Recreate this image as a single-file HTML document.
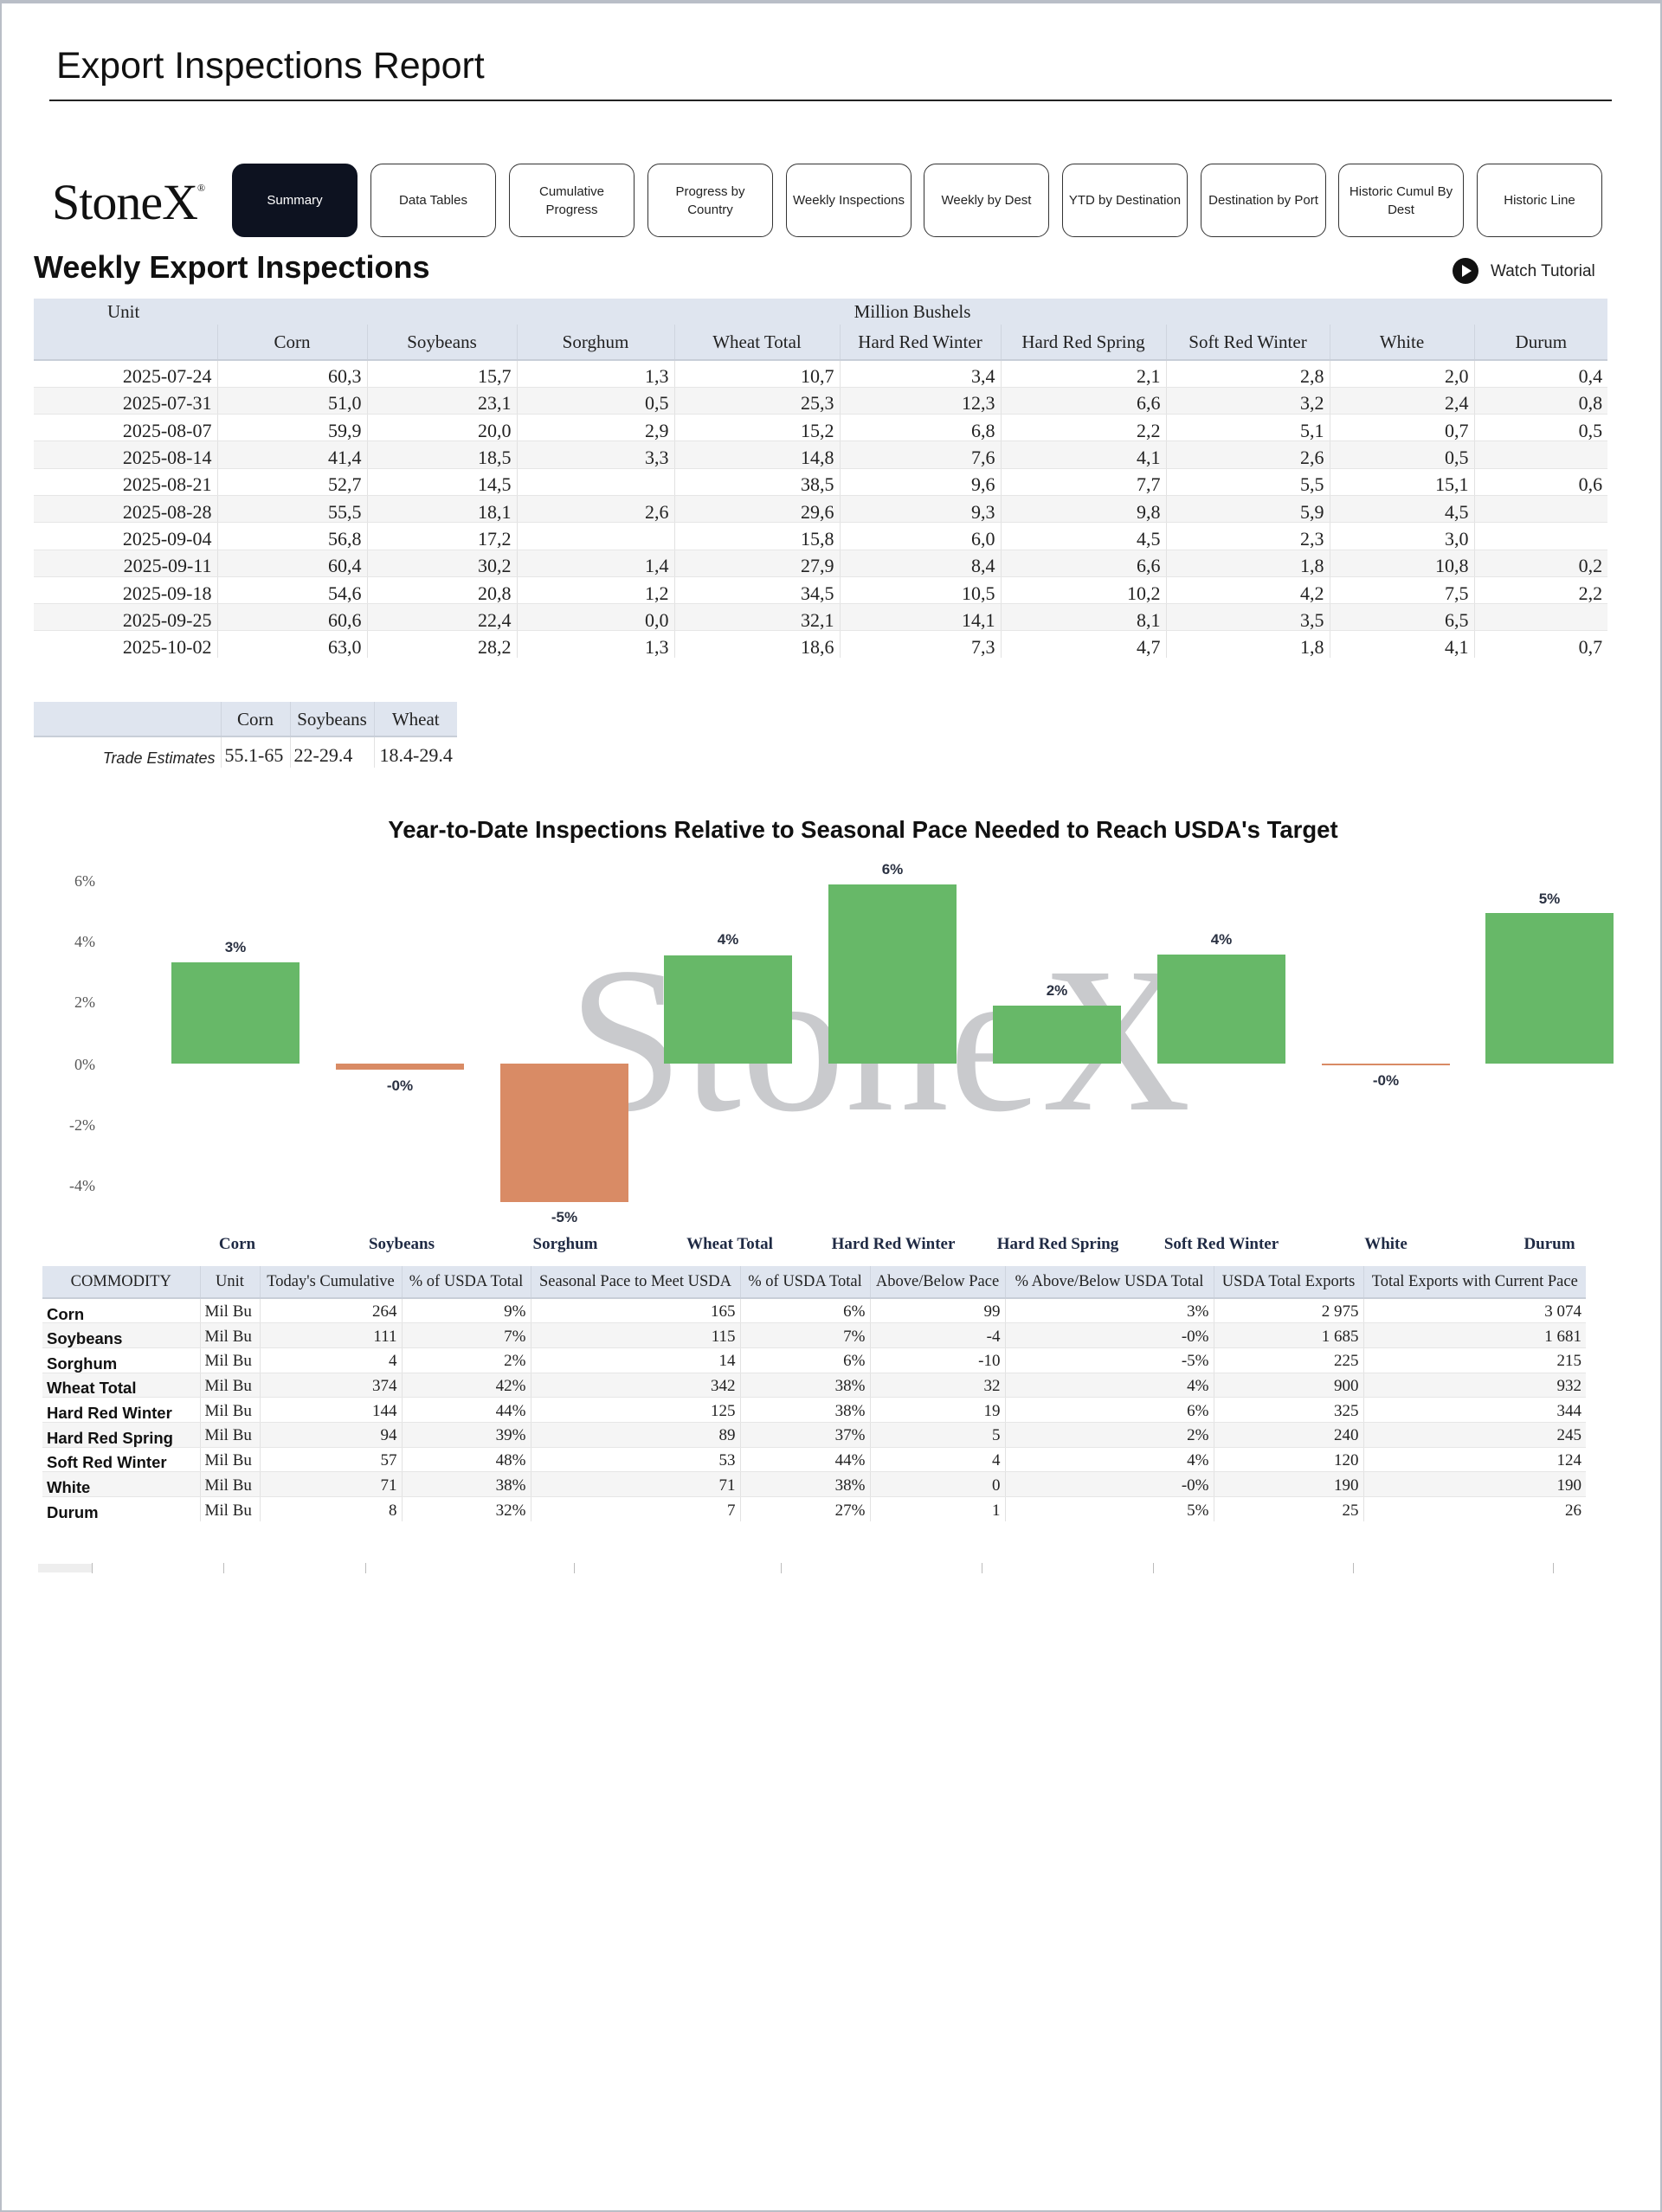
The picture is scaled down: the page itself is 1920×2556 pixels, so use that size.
<!DOCTYPE html>
<html><head><meta charset="utf-8"><style>
html,body{margin:0;padding:0;}
body{width:1920px;height:2554px;position:relative;background:#fff;overflow:hidden;font-family:"Liberation Serif",serif;color:#222;}
.frame{position:absolute;left:0;top:0;width:1916px;height:2550px;border:2px solid #b9bec7;border-top:4px solid #b9bec7;}
.abs{position:absolute;}
.btn{position:absolute;top:189px;width:145px;height:85px;border:1.5px solid #333;border-radius:14px;box-sizing:border-box;display:flex;align-items:center;justify-content:center;text-align:center;font-family:"Liberation Sans",sans-serif;font-size:15px;line-height:21px;color:#222;}
table{border-collapse:collapse;table-layout:fixed;position:absolute;}
td{padding:0 6px;white-space:nowrap;overflow:hidden;}
.t1 td{font-size:22px;line-height:22px;text-align:right;border-left:1px solid #e2e2e2;height:31.3px;box-sizing:border-box;padding-top:7px;padding-bottom:0;}
.t1 tr.h td{background:#dfe5ef;text-align:center;border-left:1px solid #cfd5df;font-size:21px;padding-top:0;}
.t1 tr.alt td{background:#f5f5f5;}
.t1 tr.d td{border-bottom:1px solid #e6e6e6;}
.t3 td{font-size:19px;line-height:19px;text-align:right;border-left:1px solid #e2e2e2;height:28.7px;box-sizing:border-box;border-bottom:1px solid #e6e6e6;padding:2px 5px 0 5px;}
.t3 tr.h td{background:#dfe5ef;text-align:center;height:37px;border-bottom:2px solid #c8ced8;border-left:1px solid #cfd5df;font-size:18.5px;padding:0 3px;}
.t3 tr.alt td{background:#f5f5f5;}
.t3 td.n{font-family:"Liberation Sans",sans-serif;font-weight:bold;text-align:left;font-size:18.5px;color:#111;border-left:none;padding-top:7px;}
.t3 td.u{text-align:left;}
</style></head><body>
<div class="frame"></div>
<div class="abs" style="left:65px;top:52px;font-family:'Liberation Sans',sans-serif;font-size:43px;color:#111;">Export Inspections Report</div>
<div class="abs" style="left:57px;top:115px;width:1805px;height:2px;background:#222;"></div>
<div class="abs" style="left:60px;top:200px;font-size:58px;color:#111;letter-spacing:-1px;">StoneX<sup style="font-size:12px;vertical-align:top;position:relative;top:10px;">®</sup></div>
<div class="btn" style="left:268px;background:#0d1220;color:#fff;border-color:#0d1220;">Summary</div>
<div class="btn" style="left:428px;">Data Tables</div>
<div class="btn" style="left:588px;">Cumulative<br>Progress</div>
<div class="btn" style="left:748px;">Progress by<br>Country</div>
<div class="btn" style="left:908px;">Weekly Inspections</div>
<div class="btn" style="left:1067px;">Weekly by Dest</div>
<div class="btn" style="left:1227px;">YTD by Destination</div>
<div class="btn" style="left:1387px;">Destination by Port</div>
<div class="btn" style="left:1546px;">Historic Cumul By<br>Dest</div>
<div class="btn" style="left:1706px;">Historic Line</div>
<div class="abs" style="left:39px;top:288px;font-family:'Liberation Sans',sans-serif;font-weight:bold;font-size:36px;color:#111;">Weekly Export Inspections</div>
<svg class="abs" style="left:1677px;top:297px" width="32" height="32"><circle cx="16" cy="16" r="15" fill="#111"/><polygon points="12,9 12,23 23,16" fill="#fff"/></svg>
<div class="abs" style="left:1722px;top:303px;font-family:'Liberation Sans',sans-serif;font-size:19px;color:#222;">Watch Tutorial</div>

<table class="t1" style="left:39px;top:345px;width:1818px;">
<colgroup><col style="width:212px"><col style="width:173px"><col style="width:173px"><col style="width:182px"><col style="width:191px"><col style="width:186px"><col style="width:191px"><col style="width:189px"><col style="width:167px"><col style="width:154px"></colgroup>
<tr class="h"><td style="height:30px;text-align:left;padding-left:85px;border-left:none">Unit</td><td colspan="9" style="height:30px;border-left:none">Million Bushels</td></tr>
<tr class="h"><td style="height:41px;border-bottom:2px solid #c8ced8;border-left:none"></td><td style="border-bottom:2px solid #c8ced8">Corn</td><td style="border-bottom:2px solid #c8ced8">Soybeans</td><td style="border-bottom:2px solid #c8ced8">Sorghum</td><td style="border-bottom:2px solid #c8ced8">Wheat Total</td><td style="border-bottom:2px solid #c8ced8">Hard Red Winter</td><td style="border-bottom:2px solid #c8ced8">Hard Red Spring</td><td style="border-bottom:2px solid #c8ced8">Soft Red Winter</td><td style="border-bottom:2px solid #c8ced8">White</td><td style="border-bottom:2px solid #c8ced8">Durum</td></tr>
<tr class="d"><td style="border-left:none">2025-07-24</td><td>60,3</td><td>15,7</td><td>1,3</td><td>10,7</td><td>3,4</td><td>2,1</td><td>2,8</td><td>2,0</td><td>0,4</td></tr>
<tr class="d alt"><td style="border-left:none">2025-07-31</td><td>51,0</td><td>23,1</td><td>0,5</td><td>25,3</td><td>12,3</td><td>6,6</td><td>3,2</td><td>2,4</td><td>0,8</td></tr>
<tr class="d"><td style="border-left:none">2025-08-07</td><td>59,9</td><td>20,0</td><td>2,9</td><td>15,2</td><td>6,8</td><td>2,2</td><td>5,1</td><td>0,7</td><td>0,5</td></tr>
<tr class="d alt"><td style="border-left:none">2025-08-14</td><td>41,4</td><td>18,5</td><td>3,3</td><td>14,8</td><td>7,6</td><td>4,1</td><td>2,6</td><td>0,5</td><td></td></tr>
<tr class="d"><td style="border-left:none">2025-08-21</td><td>52,7</td><td>14,5</td><td></td><td>38,5</td><td>9,6</td><td>7,7</td><td>5,5</td><td>15,1</td><td>0,6</td></tr>
<tr class="d alt"><td style="border-left:none">2025-08-28</td><td>55,5</td><td>18,1</td><td>2,6</td><td>29,6</td><td>9,3</td><td>9,8</td><td>5,9</td><td>4,5</td><td></td></tr>
<tr class="d"><td style="border-left:none">2025-09-04</td><td>56,8</td><td>17,2</td><td></td><td>15,8</td><td>6,0</td><td>4,5</td><td>2,3</td><td>3,0</td><td></td></tr>
<tr class="d alt"><td style="border-left:none">2025-09-11</td><td>60,4</td><td>30,2</td><td>1,4</td><td>27,9</td><td>8,4</td><td>6,6</td><td>1,8</td><td>10,8</td><td>0,2</td></tr>
<tr class="d"><td style="border-left:none">2025-09-18</td><td>54,6</td><td>20,8</td><td>1,2</td><td>34,5</td><td>10,5</td><td>10,2</td><td>4,2</td><td>7,5</td><td>2,2</td></tr>
<tr class="d alt"><td style="border-left:none">2025-09-25</td><td>60,6</td><td>22,4</td><td>0,0</td><td>32,1</td><td>14,1</td><td>8,1</td><td>3,5</td><td>6,5</td><td></td></tr>
<tr><td style="border-left:none">2025-10-02</td><td>63,0</td><td>28,2</td><td>1,3</td><td>18,6</td><td>7,3</td><td>4,7</td><td>1,8</td><td>4,1</td><td>0,7</td></tr>
</table>

<table class="t1" style="left:39px;top:811px;width:489px;">
<colgroup><col style="width:216px"><col style="width:80px"><col style="width:97px"><col style="width:96px"></colgroup>
<tr class="h"><td style="height:40px;border-bottom:2px solid #c8ced8;border-left:none"></td><td style="border-bottom:2px solid #c8ced8">Corn</td><td style="border-bottom:2px solid #c8ced8">Soybeans</td><td style="border-bottom:2px solid #c8ced8">Wheat</td></tr>
<tr><td style="border-left:none;font-family:'Liberation Sans',sans-serif;font-style:italic;font-size:18px;padding-top:12px;height:36px">Trade Estimates</td><td style="text-align:left;padding-left:4px">55.1-65</td><td style="text-align:left;padding-left:4px">22-29.4</td><td style="text-align:left;padding-left:6px">18.4-29.4</td></tr>
</table>

<svg class="abs" style="left:0;top:930px" width="1920" height="520">
<g transform="translate(0,-930)">
<text x="1016" y="1282" text-anchor="middle" font-family="Liberation Serif, serif" font-size="240" fill="#c9cacd">StoneX</text>
<text x="997" y="968" text-anchor="middle" font-family="Liberation Sans, sans-serif" font-weight="bold" font-size="27.5" fill="#111">Year-to-Date Inspections Relative to Seasonal Pace Needed to Reach USDA's Target</text>
<g font-family="Liberation Serif, serif" font-size="18" fill="#555" text-anchor="end">
<text x="110" y="1024">6%</text><text x="110" y="1094">4%</text><text x="110" y="1164">2%</text><text x="110" y="1236">0%</text><text x="110" y="1306">-2%</text><text x="110" y="1376">-4%</text>
</g>
<g fill="#67b868">
<rect x="198" y="1112" width="148" height="117"/>
<rect x="767" y="1104" width="148" height="125"/>
<rect x="957" y="1022" width="148" height="207"/>
<rect x="1147" y="1162" width="148" height="67"/>
<rect x="1337" y="1103" width="148" height="126"/>
<rect x="1716" y="1055" width="148" height="174"/>
</g>
<g fill="#d98b65">
<rect x="388" y="1229" width="148" height="7"/>
<rect x="578" y="1229" width="148" height="160"/>
<rect x="1527" y="1229" width="148" height="2"/>
</g>
<g font-family="Liberation Sans, sans-serif" font-weight="bold" font-size="17" fill="#2a3142" text-anchor="middle">
<text x="272" y="1100">3%</text><text x="462" y="1260">-0%</text><text x="652" y="1412">-5%</text><text x="841" y="1091">4%</text><text x="1031" y="1010">6%</text><text x="1221" y="1150">2%</text><text x="1411" y="1091">4%</text><text x="1601" y="1254">-0%</text><text x="1790" y="1044">5%</text>
</g>
<g font-family="Liberation Serif, serif" font-weight="bold" font-size="19" fill="#1f2a44" text-anchor="middle">
<text x="274" y="1443">Corn</text><text x="464" y="1443">Soybeans</text><text x="653" y="1443">Sorghum</text><text x="843" y="1443">Wheat Total</text><text x="1032" y="1443">Hard Red Winter</text><text x="1222" y="1443">Hard Red Spring</text><text x="1411" y="1443">Soft Red Winter</text><text x="1601" y="1443">White</text><text x="1790" y="1443">Durum</text>
</g>
</g>
</svg>

<table class="t3" style="left:49px;top:1463px;width:1783px;">
<colgroup><col style="width:182px"><col style="width:69px"><col style="width:164px"><col style="width:149px"><col style="width:242px"><col style="width:150px"><col style="width:156px"><col style="width:241px"><col style="width:173px"><col style="width:257px"></colgroup>
<tr class="h"><td style="border-left:none">COMMODITY</td><td>Unit</td><td>Today's Cumulative</td><td>% of USDA Total</td><td>Seasonal Pace to Meet USDA</td><td>% of USDA Total</td><td>Above/Below Pace</td><td>% Above/Below USDA Total</td><td>USDA Total Exports</td><td>Total Exports with Current Pace</td></tr>
<tr><td class="n">Corn</td><td class="u">Mil Bu</td><td>264</td><td>9%</td><td>165</td><td>6%</td><td>99</td><td>3%</td><td>2 975</td><td>3 074</td></tr>
<tr class="alt"><td class="n">Soybeans</td><td class="u">Mil Bu</td><td>111</td><td>7%</td><td>115</td><td>7%</td><td>-4</td><td>-0%</td><td>1 685</td><td>1 681</td></tr>
<tr><td class="n">Sorghum</td><td class="u">Mil Bu</td><td>4</td><td>2%</td><td>14</td><td>6%</td><td>-10</td><td>-5%</td><td>225</td><td>215</td></tr>
<tr class="alt"><td class="n">Wheat Total</td><td class="u">Mil Bu</td><td>374</td><td>42%</td><td>342</td><td>38%</td><td>32</td><td>4%</td><td>900</td><td>932</td></tr>
<tr><td class="n">Hard Red Winter</td><td class="u">Mil Bu</td><td>144</td><td>44%</td><td>125</td><td>38%</td><td>19</td><td>6%</td><td>325</td><td>344</td></tr>
<tr class="alt"><td class="n">Hard Red Spring</td><td class="u">Mil Bu</td><td>94</td><td>39%</td><td>89</td><td>37%</td><td>5</td><td>2%</td><td>240</td><td>245</td></tr>
<tr><td class="n">Soft Red Winter</td><td class="u">Mil Bu</td><td>57</td><td>48%</td><td>53</td><td>44%</td><td>4</td><td>4%</td><td>120</td><td>124</td></tr>
<tr class="alt"><td class="n">White</td><td class="u">Mil Bu</td><td>71</td><td>38%</td><td>71</td><td>38%</td><td>0</td><td>-0%</td><td>190</td><td>190</td></tr>
<tr><td class="n" style="border-bottom:none">Durum</td><td class="u" style="border-bottom:none">Mil Bu</td><td style="border-bottom:none">8</td><td style="border-bottom:none">32%</td><td style="border-bottom:none">7</td><td style="border-bottom:none">27%</td><td style="border-bottom:none">1</td><td style="border-bottom:none">5%</td><td style="border-bottom:none">25</td><td style="border-bottom:none">26</td></tr>
</table>

<div class="abs" style="left:44px;top:1807px;width:62px;height:10px;background:#eee;"></div>
<div class="abs" style="left:106px;top:1806px;width:1px;height:12px;background:#bbb;"></div>
<div class="abs" style="left:258px;top:1806px;width:1px;height:12px;background:#bbb;"></div>
<div class="abs" style="left:422px;top:1806px;width:1px;height:12px;background:#bbb;"></div>
<div class="abs" style="left:663px;top:1806px;width:1px;height:12px;background:#bbb;"></div>
<div class="abs" style="left:902px;top:1806px;width:1px;height:12px;background:#bbb;"></div>
<div class="abs" style="left:1134px;top:1806px;width:1px;height:12px;background:#bbb;"></div>
<div class="abs" style="left:1332px;top:1806px;width:1px;height:12px;background:#bbb;"></div>
<div class="abs" style="left:1563px;top:1806px;width:1px;height:12px;background:#bbb;"></div>
<div class="abs" style="left:1794px;top:1806px;width:1px;height:12px;background:#bbb;"></div>
</body></html>
